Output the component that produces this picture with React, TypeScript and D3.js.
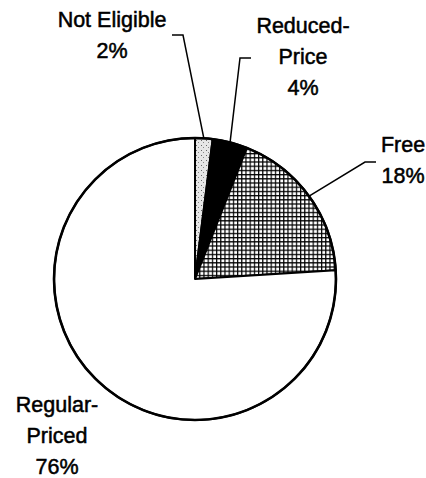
import { useMemo } from "react";
import * as d3 from "d3";

// Lunch category shares, clockwise from 12 o'clock
const categories = ["Not Eligible", "Reduced-Price", "Free", "Regular-Priced"];
const shares = [2, 4, 18, 76];
const labelLines = [
  ["Not Eligible", "2%"],
  ["Reduced-", "Price", "4%"],
  ["Free", "18%"],
  ["Regular-", "Priced", "76%"],
];

const W = 426;
const H = 478;
const cx = 195;
const cy = 279;
const R = 141;
const FONT = "'Liberation Sans', Arial, Helvetica, sans-serif";

// label anchor (center x, first baseline) and leader elbow, per slice
const labelPos: Array<{ x: number; y: number; anchor: string; leader?: [number, number, number] }> = [
  { x: 112, y: 27, anchor: "middle", leader: [172, 183, 35] },
  { x: 303, y: 33, anchor: "middle", leader: [251, 240, 58] },
  { x: 403, y: 152, anchor: "middle", leader: [376, 365, 162] },
  { x: 57, y: 412, anchor: "middle" },
];

const fills = ["url(#stipple)", "#000", "url(#grid)", "#fff"];

export default function App() {
  const arcs = useMemo(
    () =>
      d3
        .pie<number>()
        .sort(null)
        .value((d) => d)(shares),
    [],
  );
  const arc = d3.arc<d3.PieArcDatum<number>>().innerRadius(0).outerRadius(R);

  return (
    <svg
      width={W}
      height={H}
      style={{ position: "absolute", left: 0, top: 0, background: "#fff" }}
    >
      <defs>
        <pattern id="grid" width={4.2} height={4.2} patternUnits="userSpaceOnUse">
          <rect width={4.2} height={4.2} fill="#fff" />
          <path d="M0,0.6H4.2M0.6,0V4.2" stroke="#000" strokeWidth={1.2} />
        </pattern>
        <pattern id="stipple" width={5} height={5} patternUnits="userSpaceOnUse">
          <rect width={5} height={5} fill="#e6e6e6" />
          <rect x={1} y={1} width={1} height={1} fill="#666" />
          <rect x={3} y={3} width={1} height={1} fill="#888" />
        </pattern>
      </defs>
      <g transform={`translate(${cx},${cy})`}>
        {arcs.map((a, i) => (
          <path
            key={categories[i]}
            d={arc(a) ?? ""}
            fill={fills[i]}
            stroke="#000"
            strokeWidth={2}
            strokeLinejoin="round"
          />
        ))}
        <circle r={R} fill="none" stroke="#000" strokeWidth={2.6} />
      </g>
      {arcs.map((a, i) => {
        const p = labelPos[i];
        const mid = (a.startAngle + a.endAngle) / 2;
        const ex = cx + Math.sin(mid) * R;
        const ey = cy - Math.cos(mid) * R;
        return (
          <g key={categories[i]}>
            {p.leader && (
              <polyline
                points={`${p.leader[0]},${p.leader[2]} ${p.leader[1]},${p.leader[2]} ${ex},${ey}`}
                fill="none"
                stroke="#000"
                strokeWidth={1.5}
              />
            )}
            <text
              textAnchor={p.anchor}
              fontFamily={FONT}
              fontSize={21.5}
              fill="#000"
              stroke="#000"
              strokeWidth={0.5}
            >
              {labelLines[i].map((t, j) => (
                <tspan key={j} x={p.x} y={p.y + j * 31}>
                  {t}
                </tspan>
              ))}
            </text>
          </g>
        );
      })}
    </svg>
  );
}
